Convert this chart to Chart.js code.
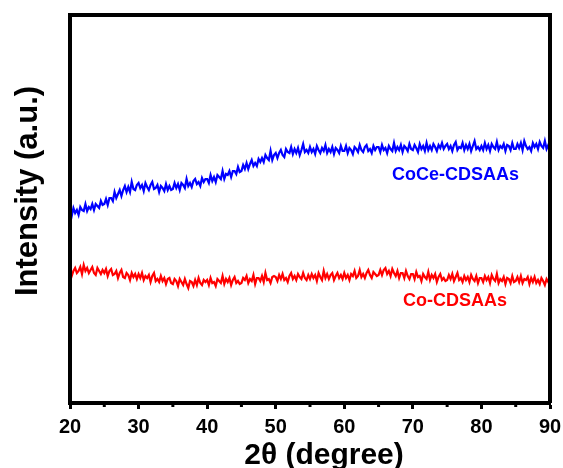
<!DOCTYPE html>
<html>
<head>
<meta charset="utf-8">
<script src="https://cdn.jsdelivr.net/npm/chart.js@4.4.1/dist/chart.umd.min.js"></script>
<style>
  html, body { margin: 0; padding: 0; background: #fff; }
  #wrap { width: 563px; height: 468px; position: relative; }
</style>
</head>
<body>
<div id="wrap"><canvas id="xrdChart"></canvas></div>
<script>
// 2theta grid of the scans: 20 to 90 degree, 0.25 step
const thetaStart = 20;
const thetaStep = 0.25;
const thetaCount = 281;

// CoCe-CDSAAs intensity (a.u.), one row per 5 degree
const cocePattern = [
  194,189,197,192,195,190,198,195,194,201,194,198,196,201,195,201,199,197,204,200,
  201,206,200,207,207,204,213,207,211,215,209,215,219,213,218,213,223,216,215,220,
  222,217,220,214,222,218,215,220,223,216,217,220,213,219,217,214,221,215,219,215,
  216,222,217,221,215,222,220,217,226,219,222,218,224,226,221,223,219,227,223,226,
  226,222,230,224,228,223,230,228,226,234,226,231,230,234,228,234,234,231,238,233,
  234,240,236,242,236,241,245,239,242,239,246,243,247,243,250,247,245,254,245,250,
  252,247,252,255,250,248,256,253,252,258,251,256,252,257,250,255,261,253,255,252,
  258,253,256,251,259,255,252,257,254,260,252,256,253,258,251,257,255,252,259,254,
  254,259,252,257,255,251,258,256,253,260,255,253,258,260,254,256,252,259,255,258,
  258,253,260,255,257,252,259,256,254,262,254,258,255,260,253,259,257,254,261,256,
  255,260,257,253,261,256,259,254,262,255,259,255,261,258,254,260,257,262,256,259,
  261,256,259,254,260,263,255,258,257,262,255,260,256,261,254,259,264,256,258,255,
  259,255,262,256,260,254,261,258,256,263,255,259,257,261,254,260,259,255,262,256,
  256,261,257,262,255,264,259,256,258,254,262,258,261,256,263,259,257,264,256,260,
  258
];

// Co-CDSAAs intensity (a.u.)
const coPattern = [
  134,129,134,137,132,134,138,131,140,134,137,132,135,138,132,130,137,134,131,135,
  132,136,129,134,136,130,131,134,127,132,135,128,127,132,130,125,132,128,131,126,
  131,127,132,125,129,127,130,123,129,132,124,126,123,129,124,127,121,126,127,122,
  121,126,124,119,126,123,120,126,121,117,124,123,119,125,120,127,122,120,125,123,
  125,120,127,122,123,119,126,124,122,129,121,126,123,127,120,125,128,122,124,121,
  122,127,125,129,122,126,124,130,121,127,127,124,129,123,132,125,126,122,128,129,
  128,124,130,126,131,125,127,123,129,132,126,129,125,131,128,126,132,127,125,130,
  126,131,127,130,124,132,128,125,134,127,131,126,130,132,125,129,132,127,130,126,
  132,127,130,125,131,129,134,127,129,135,128,131,127,132,135,130,127,133,131,129,
  130,135,130,135,137,131,134,129,136,132,129,134,127,132,132,127,134,129,126,131,
  131,126,133,128,129,124,131,128,126,133,125,130,127,131,123,128,131,125,127,124,
  125,130,126,131,124,128,132,125,127,123,129,125,128,123,130,126,124,129,122,127,
  127,123,129,125,128,122,130,126,124,131,122,126,124,128,121,127,126,122,129,123,
  124,128,123,129,122,126,125,128,121,127,123,128,122,125,121,127,124,120,126,123,
  124
];

const xTicks = [20, 30, 40, 50, 60, 70, 80, 90];
const seriesNames = ['CoCe-CDSAAs', 'Co-CDSAAs'];
const seriesColors = ['#0000ff', '#ff0000'];

const FONT = "'Liberation Sans', Arial, Helvetica, sans-serif";

let twoTheta = [];
for (let i = 0; i < thetaCount; i++) {
    twoTheta.push(thetaStart + i * thetaStep);
}

const toPoints = (vals) => vals.map((v, i) => ({ x: twoTheta[i], y: v }));

// frame, minor ticks, axis titles and curve labels
const decorations = {
    id: 'decorations',
    afterDraw(chart) {
        const ctx = chart.ctx;
        const area = chart.chartArea;
        const xs = chart.scales.x;
        const ys = chart.scales.y;
        ctx.save();

        // box
        ctx.strokeStyle = '#000';
        ctx.lineWidth = 4;
        ctx.beginPath();
        ctx.moveTo(area.left, area.bottom);
        ctx.lineTo(area.left, area.top);
        ctx.lineTo(area.right, area.top);
        ctx.lineTo(area.right, area.bottom);
        ctx.stroke();

        // minor ticks every 5 degree
        ctx.lineWidth = 3;
        for (let v = 25; v < 90; v += 10) {
            const px = xs.getPixelForValue(v);
            ctx.beginPath();
            ctx.moveTo(px, area.bottom);
            ctx.lineTo(px, area.bottom + 4);
            ctx.stroke();
        }

        // axis titles
        ctx.fillStyle = '#000';
        ctx.font = 'bold 30px ' + FONT;
        ctx.textAlign = 'center';
        ctx.textBaseline = 'alphabetic';
        ctx.fillText('2\u03B8 (degree)', 324, 464);

        ctx.save();
        ctx.translate(37, 191);
        ctx.rotate(-Math.PI / 2);
        ctx.font = 'bold 31px ' + FONT;
        ctx.fillText('Intensity (a.u.)', 0, 0);
        ctx.restore();

        // curve labels
        ctx.font = 'bold 18px ' + FONT;
        ctx.textAlign = 'left';
        ctx.fillStyle = seriesColors[0];
        ctx.fillText(seriesNames[0], xs.getPixelForValue(66.95), ys.getPixelForValue(225));
        ctx.fillStyle = seriesColors[1];
        ctx.fillText(seriesNames[1], xs.getPixelForValue(68.56), ys.getPixelForValue(99));

        ctx.restore();
    }
};

const canvas = document.getElementById('xrdChart');
if (canvas) {
    new Chart(canvas.getContext('2d'), {
        type: 'line',
        data: {
            datasets: [
                {
                    label: seriesNames[0],
                    data: toPoints(cocePattern),
                    borderColor: seriesColors[0],
                    borderWidth: 2.2,
                    pointRadius: 0,
                    tension: 0
                },
                {
                    label: seriesNames[1],
                    data: toPoints(coPattern),
                    borderColor: seriesColors[1],
                    borderWidth: 2.2,
                    pointRadius: 0,
                    tension: 0
                }
            ]
        },
        options: {
            responsive: true,
            maintainAspectRatio: false,
            animation: false,
            layout: { padding: { top: 15, right: 13, left: 0, bottom: 0 } },
            plugins: {
                legend: { display: false },
                tooltip: { enabled: false }
            },
            scales: {
                x: {
                    type: 'linear',
                    min: 20,
                    max: 90,
                    afterFit: (scale) => {
                        scale.height = 65;
                        scale.paddingLeft = 0;
                        scale.paddingRight = 0;
                    },
                    afterBuildTicks: (scale) => {
                        scale.ticks = xTicks.map(v => ({ value: v }));
                    },
                    ticks: {
                        color: '#000',
                        padding: 6,
                        maxRotation: 0,
                        autoSkip: false,
                        font: { family: FONT, size: 20, weight: 'bold' }
                    },
                    grid: {
                        drawOnChartArea: false,
                        drawTicks: true,
                        tickLength: 6,
                        tickWidth: 3,
                        tickColor: '#000'
                    },
                    border: { display: true, color: '#000', width: 4 }
                },
                y: {
                    min: 2,
                    max: 390,
                    afterFit: (scale) => { scale.width = 70; },
                    ticks: { display: false },
                    grid: { display: false, drawTicks: false },
                    border: { display: true, color: '#000', width: 4 }
                }
            }
        },
        plugins: [decorations]
    });
} else {
    console.error("xrdChart canvas not found.");
}
</script>
</body>
</html>
